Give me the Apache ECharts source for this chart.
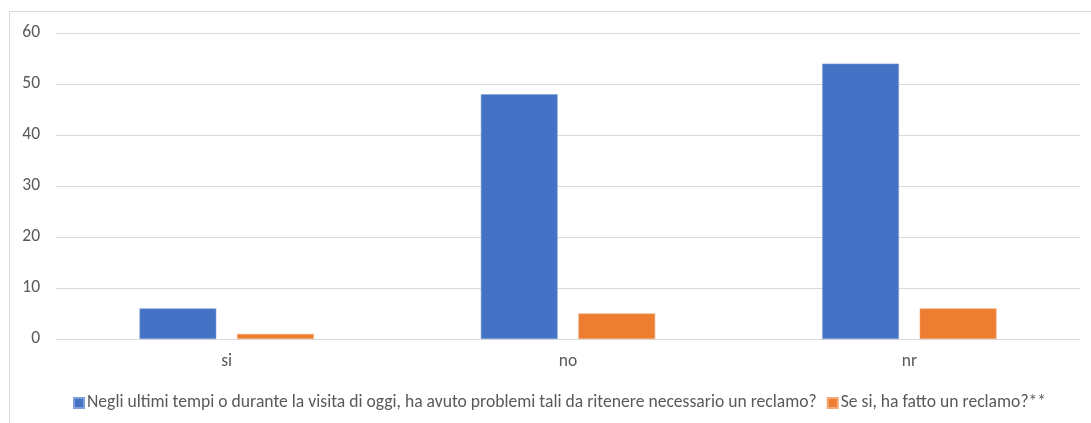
<!DOCTYPE html>
<html>
<head>
<meta charset="utf-8">
<script src="https://cdn.jsdelivr.net/npm/echarts@6/dist/echarts.min.js"></script>
<style>
  html, body { margin: 0; padding: 0; background: #fff; }
  #chart { width: 1091px; height: 423px; }
</style>
</head>
<body>
<div id="chart"></div>
<script>
// Categories and series values
const categories = ['si', 'no', 'nr'];
const seriesNames = [
  'Negli ultimi tempi o durante la visita di oggi, ha avuto problemi tali da ritenere necessario un reclamo?',
  'Se si, ha fatto un reclamo?**'
];
const problemiValues = [6, 48, 54];
const reclamoValues = [1, 5, 6];
const yTicks = { min: 0, max: 60, interval: 10 };

const chart = echarts.init(document.getElementById('chart'), null, { renderer: 'canvas' });
const textColor = '#595959';
const font = 'Calibri, Carlito, Lato, sans-serif';
const fontSize = 17.5;

chart.setOption({
  animation: false,
  textStyle: { fontFamily: font },
  graphic: [{
    type: 'rect',
    shape: { x: 9.5, y: 11.5, width: 1100, height: 430 },
    style: { fill: 'none', stroke: '#d9d9d9', lineWidth: 1 },
    silent: true
  }],
  grid: { left: 56, right: 11, top: 33, bottom: 84 },
  legend: {
    top: 389,
    left: 68,
    itemWidth: 10,
    itemHeight: 10,
    itemGap: 10,
    icon: 'rect',
    textStyle: { color: textColor, fontSize: 17.6, fontFamily: font, padding: [0, 0, 0, -2] },
    data: seriesNames
  },
  xAxis: {
    type: 'category',
    data: categories,
    axisLine: { lineStyle: { color: '#d9d9d9' } },
    axisTick: { show: false },
    axisLabel: { color: textColor, fontSize: fontSize, margin: 14, fontFamily: font }
  },
  yAxis: {
    type: 'value',
    min: yTicks.min,
    max: yTicks.max,
    interval: yTicks.interval,
    axisLine: { show: false },
    axisTick: { show: false },
    splitLine: { lineStyle: { color: '#d9d9d9' } },
    axisLabel: { color: textColor, fontSize: fontSize, margin: 16, fontFamily: font }
  },
  series: [
    {
      name: seriesNames[0],
      type: 'bar',
      data: problemiValues,
      barWidth: '22.5%',
      barGap: '27%',
      itemStyle: { color: '#4472c4', borderColor: '#7f9fd6', borderWidth: 0.6 }
    },
    {
      name: seriesNames[1],
      type: 'bar',
      data: reclamoValues,
      barWidth: '22.5%',
      itemStyle: { color: '#ed7d31', borderColor: '#f4a878', borderWidth: 0.6 }
    }
  ]
});
</script>
</body>
</html>
